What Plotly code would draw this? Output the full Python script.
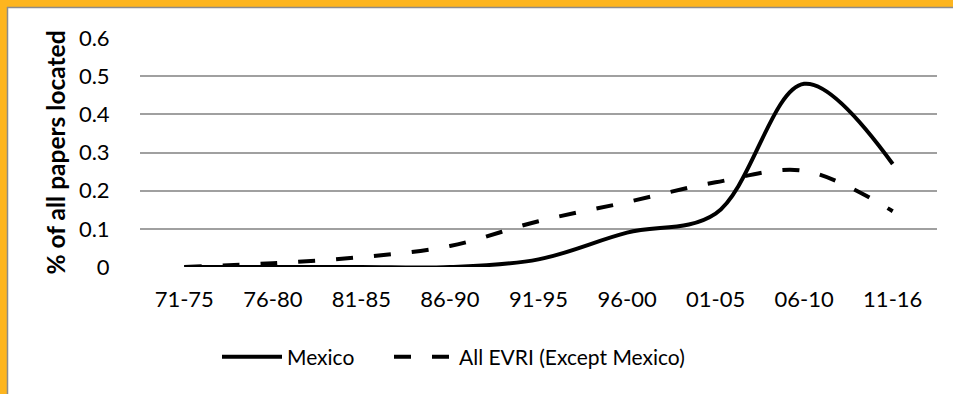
import plotly.graph_objects as go

categories = ["71-75", "76-80", "81-85", "86-90", "91-95", "96-00", "01-05", "06-10", "11-16"]
mexico = [0.0, 0.0, 0.0, 0.0, 0.02, 0.09, 0.14, 0.48, 0.27]
all_evri = [0.0, 0.01, 0.026, 0.055, 0.12, 0.17, 0.222, 0.252, 0.146]
y_ticks = [0, 0.1, 0.2, 0.3, 0.4, 0.5, 0.6]
y_tick_text = ["0", "0.1", "0.2", "0.3", "0.4", "0.5", "0.6"]

W, H = 953, 394
ML, MR, MT, MB = 140, 16, 38, 127
PW, PH = W - ML - MR, H - MT - MB


def px(x):
    return (x - ML) / PW


def py(y):
    return (H - MB - y) / PH


FONT = "Lato"

fig = go.Figure()
fig.add_trace(go.Scatter(
    x=categories, y=mexico, mode="lines", name="Mexico", legend="legend",
    line=dict(color="black", width=4, shape="spline", smoothing=1.0),
))
fig.add_trace(go.Scatter(
    x=categories, y=all_evri, mode="lines", name="All EVRI (Except Mexico)", legend="legend2",
    line=dict(color="black", width=4, shape="spline", smoothing=1.0, dash="17px,21px"),
))

shapes = [
    # orange frame (left and top)
    dict(type="rect", xref="paper", yref="paper", x0=px(0), x1=px(7), y0=py(H), y1=py(0),
         fillcolor="#FDB51F", line=dict(width=0), layer="below"),
    dict(type="rect", xref="paper", yref="paper", x0=px(0), x1=px(W), y0=py(7), y1=py(0),
         fillcolor="#FDB51F", line=dict(width=0), layer="below"),
    dict(type="line", xref="paper", yref="paper", x0=px(7.5), x1=px(7.5), y0=py(H), y1=py(7),
         line=dict(color="#8C8C8C", width=1.5), layer="below"),
    dict(type="line", xref="paper", yref="paper", x0=px(7), x1=px(W), y0=py(7.5), y1=py(7.5),
         line=dict(color="#8C8C8C", width=1.5), layer="below"),
]

legend_common = dict(orientation="h", yanchor="middle", y=py(357),
                     font=dict(family=FONT, size=21, color="black"),
                     itemwidth=60, tracegroupgap=0, bgcolor="rgba(0,0,0,0)", xanchor="left")

fig.update_layout(
    width=W, height=H,
    margin=dict(l=ML, r=MR, t=MT, b=MB),
    paper_bgcolor="white", plot_bgcolor="white",
    font=dict(family=FONT, size=21, color="black"),
    shapes=shapes,
    showlegend=True,
    legend=dict(x=px(217), **legend_common),
    legend2=dict(x=px(389), **legend_common),
    xaxis=dict(
        type="category", showgrid=False, showline=False, zeroline=False,
        ticks="outside", ticklen=13, tickcolor="rgba(0,0,0,0)",
        tickfont=dict(family=FONT, size=22, color="black"),
        range=[-0.5, len(categories) - 0.5],
    ),
    yaxis=dict(
        range=[0, 0.6], tickvals=y_ticks, ticktext=y_tick_text,
        showgrid=True, gridcolor="#A0A0A0", gridwidth=1.5,
        zeroline=False, showline=False,
        ticks="outside", ticklen=25, tickcolor="rgba(0,0,0,0)",
        tickfont=dict(family=FONT, size=22, color="black"),
        title=dict(text="<b>% of all papers located</b>", font=dict(family=FONT, size=24.5, color="black"),
                   standoff=6),
    ),
)

fig.write_html("out.html", config={"displayModeBar": False},
               post_script="document.body.style.margin='0';document.body.style.padding='0';")
